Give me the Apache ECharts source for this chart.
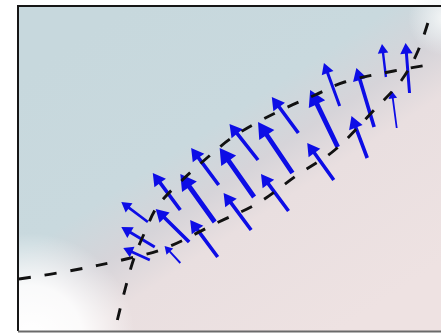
<!DOCTYPE html>
<html>
<head>
<meta charset="utf-8">
<script src="https://cdn.jsdelivr.net/npm/echarts@6/dist/echarts.min.js"></script>
<style>
  html, body { margin: 0; padding: 0; background: #ffffff; }
  #chart { width: 441px; height: 333px; }
</style>
</head>
<body>
<div id="chart"></div>
<script>
// Arrow field: tail position (x, y), vector components (u, v) and a weight per arrow
const arrowX = [1.32, 1.39, 1.34, 1.65, 1.65, 1.74, 2.00, 2.03, 2.04, 2.40, 2.37, 2.44, 2.79, 2.75, 2.85, 3.25, 3.21, 3.27, 3.55, 3.62, 3.74, 3.98, 3.85];
const arrowY = [1.09, 0.84, 0.71, 0.68, 1.21, 0.89, 1.09, 0.74, 1.46, 1.34, 1.01, 1.71, 1.58, 1.20, 1.98, 1.84, 1.51, 2.25, 1.73, 2.04, 2.54, 2.38, 2.03];
const arrowU = [-0.27, -0.34, -0.27, -0.16, -0.28, -0.34, -0.35, -0.28, -0.28, -0.35, -0.28, -0.29, -0.35, -0.28, -0.27, -0.28, -0.27, -0.16, -0.16, -0.18, -0.04, -0.04, -0.05];
const arrowV = [0.20, 0.20, 0.12, 0.17, 0.37, 0.33, 0.48, 0.37, 0.37, 0.49, 0.37, 0.36, 0.51, 0.37, 0.36, 0.57, 0.37, 0.43, 0.42, 0.59, 0.33, 0.50, 0.37];
const arrowWeight = [2.2, 2.5, 2.2, 1.6, 3, 3, 4, 3, 3, 4, 3, 3, 4, 3, 3, 4, 3, 2.5, 3, 3, 2, 2.5, 1.5];

// Two dashed boundary curves
const lowerCurveX = [0.01, 0.52, 1.10, 1.50, 2.04, 2.44, 2.84, 3.22, 3.62, 3.90, 4.07, 4.20];
const lowerCurveY = [0.52, 0.60, 0.72, 0.83, 1.09, 1.28, 1.56, 1.81, 2.21, 2.51, 2.81, 3.19];
const upperCurveX = [1.01, 1.10, 1.18, 1.29, 1.42, 1.67, 1.92, 2.17, 2.44, 2.72, 3.02, 3.32, 3.82, 4.23];
const upperCurveY = [0.11, 0.46, 0.73, 0.99, 1.25, 1.51, 1.73, 1.93, 2.09, 2.23, 2.36, 2.49, 2.60, 2.67];

const ARROW_COLOR = '#0d0de6';
const PLOT = { left: 18, top: 6, width: 430, height: 325 };

const arrowData = arrowX.map((x, i) => [x, arrowY[i], arrowU[i], arrowV[i], arrowWeight[i]]);
const lowerData = lowerCurveX.map((x, i) => [x, lowerCurveY[i]]);
const upperData = upperCurveX.map((x, i) => [x, upperCurveY[i]]);

function renderArrow(params, api) {
  const x = api.value(0), y = api.value(1), u = api.value(2), v = api.value(3), w = api.value(4);
  const p0 = api.coord([x, y]);
  const p1 = api.coord([x + u, y + v]);
  const dx = p1[0] - p0[0], dy = p1[1] - p0[1];
  const len = Math.sqrt(dx * dx + dy * dy) || 1;
  const ex = dx / len, ey = dy / len;
  const nx = -ey, ny = ex;
  const shaft = w * 1.2;
  const headW = 3.8 * w + 3;
  const headL = Math.min(3.3 * w + 2.5, len * 0.7);
  const bx = p1[0] - ex * headL, by = p1[1] - ey * headL;
  const pts = [
    [p0[0] + nx * shaft / 2, p0[1] + ny * shaft / 2],
    [bx + nx * shaft / 2, by + ny * shaft / 2],
    [bx + nx * headW / 2, by + ny * headW / 2],
    [p1[0], p1[1]],
    [bx - nx * headW / 2, by - ny * headW / 2],
    [bx - nx * shaft / 2, by - ny * shaft / 2],
    [p0[0] - nx * shaft / 2, p0[1] - ny * shaft / 2]
  ];
  return { type: 'polygon', shape: { points: pts }, style: { fill: ARROW_COLOR } };
}

const chart = echarts.init(document.getElementById('chart'), null, { renderer: 'canvas' });

const dashStyle = { color: '#111111', width: 2.9, type: [12, 14], cap: 'butt' };

const R = PLOT.left + PLOT.width + 10;
const B = PLOT.top + PLOT.height;

chart.setOption({
  animation: false,
  backgroundColor: '#ffffff',
  grid: { left: PLOT.left, top: PLOT.top, width: PLOT.width, height: PLOT.height, show: false },
  xAxis: { type: 'value', min: 0, max: 4.3, show: false },
  yAxis: { type: 'value', min: 0, max: 3.25, show: false },
  graphic: [
    {
      type: 'rect', z: 0, silent: true,
      shape: { x: PLOT.left, y: PLOT.top, width: PLOT.width, height: PLOT.height },
      style: {
        fill: {
          type: 'linear', x: 0.25, y: 0, x2: 0.75, y2: 1,
          colorStops: [
            { offset: 0, color: '#c7d8dd' },
            { offset: 0.38, color: '#c9d9de' },
            { offset: 0.52, color: '#d6d4d9' },
            { offset: 0.64, color: '#e9dfe0' },
            { offset: 1, color: '#eee2e2' }
          ]
        }
      }
    },
    {
      type: 'circle', z: 1, silent: true,
      shape: { cx: 30, cy: 338, r: 105 },
      style: {
        fill: {
          type: 'radial', x: 0.5, y: 0.5, r: 0.5,
          colorStops: [
            { offset: 0, color: 'rgba(255,255,255,1)' },
            { offset: 0.5, color: 'rgba(255,255,255,0.88)' },
            { offset: 1, color: 'rgba(255,255,255,0)' }
          ]
        }
      }
    },
    {
      type: 'circle', z: 1, silent: true,
      shape: { cx: 446, cy: 18, r: 38 },
      style: {
        fill: {
          type: 'radial', x: 0.5, y: 0.5, r: 0.5,
          colorStops: [
            { offset: 0, color: 'rgba(248,250,250,0.95)' },
            { offset: 0.5, color: 'rgba(240,245,246,0.55)' },
            { offset: 1, color: 'rgba(240,245,246,0)' }
          ]
        }
      }
    },
    {
      type: 'polyline', z: 100, silent: true,
      shape: { points: [[R, PLOT.top], [PLOT.left, PLOT.top], [PLOT.left, B]] },
      style: { fill: 'none', stroke: '#161616', lineWidth: 2 }
    },
    {
      type: 'line', z: 100, silent: true,
      shape: { x1: PLOT.left, y1: B + 0.5, x2: R, y2: B + 0.5 },
      style: { stroke: '#6a6a6a', lineWidth: 2 }
    }
  ],
  series: [
    {
      type: 'custom',
      z: 3,
      silent: true,
      renderItem: renderArrow,
      data: arrowData
    },
    {
      type: 'line',
      z: 4,
      silent: true,
      data: lowerData,
      smooth: 0.35,
      symbol: 'none',
      lineStyle: dashStyle
    },
    {
      type: 'line',
      z: 4,
      silent: true,
      data: upperData,
      smooth: 0.35,
      symbol: 'none',
      lineStyle: dashStyle
    }
  ]
});
</script>
</body>
</html>
